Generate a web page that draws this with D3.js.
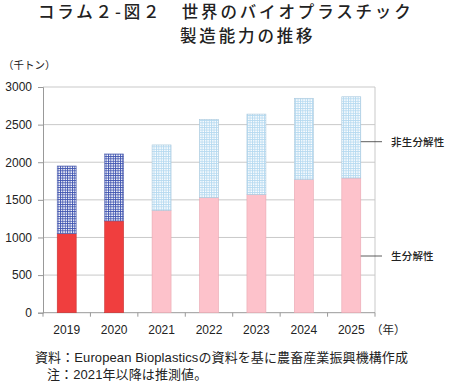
<!DOCTYPE html>
<html><head><meta charset="utf-8">
<script src="https://cdn.jsdelivr.net/npm/d3@7"></script>
<style>body{margin:0;background:#fff}svg{display:block}</style>
</head><body>
<script>
const years = ["2019","2020","2021","2022","2023","2024","2025"];
const biodegradable = [1050, 1220, 1360, 1530, 1570, 1770, 1790];
const nonBiodegradable = [900, 890, 870, 1040, 1070, 1080, 1080];
const isEstimate = [false, false, true, true, true, true, true];
const yTicks = [0, 500, 1000, 1500, 2000, 2500, 3000];
const seriesLabels = ["生分解性", "非生分解性"];

(function () {
const W = 450, H = 381;
const svg = d3.select("body").append("svg").attr("width", W).attr("height", H);
const defs = svg.append("defs");
function grid(id, color, bg) {
  const s = 2.4;
  const p = defs.append("pattern").attr("id", id).attr("patternUnits","userSpaceOnUse")
    .attr("width", s).attr("height", s);
  p.append("rect").attr("width", s).attr("height", s).attr("fill", bg);
  p.append("rect").attr("width", s).attr("height", 0.9).attr("fill", color);
  p.append("rect").attr("width", 0.9).attr("height", s).attr("fill", color);
}
grid("dark", "#3f54b0", "#ffffff");
grid("light", "#b5d9f0", "#ffffff");

const pLeft = 43, pRight = 375, pTop = 87, pBottom = 312.7;
const x = d3.scaleBand().domain(years).range([pLeft, pRight]).paddingInner(0.6).paddingOuter(0.3);
const y = d3.scaleLinear().domain([0, 3000]).range([pBottom, pTop]);
const font = "'Liberation Sans', Arial, sans-serif";
const jp = "'Noto Sans CJK JP', sans-serif";
const mixed = "'Liberation Sans', 'Noto Sans CJK JP', sans-serif";

// title
svg.append("text").attr("x", 38).attr("y", 18).attr("font-family", jp).attr("font-size", 16.5)
  .attr("font-weight", 500).attr("letter-spacing", 2.85).attr("fill", "#222")
  .text("コラム２-図２　世界のバイオプラスチック");
svg.append("text").attr("x", 180).attr("y", 41.5).attr("font-family", jp).attr("font-size", 16.5)
  .attr("font-weight", 500).attr("letter-spacing", 2.85).attr("fill", "#222")
  .text("製造能力の推移");

// unit
svg.append("text").attr("x", 3).attr("y", 69).attr("font-family", jp).attr("font-size", 10.5)
  .attr("fill", "#222").text("（千トン）");

// gridlines
svg.append("g").selectAll("line").data(yTicks.filter(d => d > 0)).join("line")
  .attr("x1", pLeft).attr("x2", pRight).attr("y1", d => y(d)).attr("y2", d => y(d))
  .attr("stroke", "#c9c9c9").attr("stroke-width", 1);
svg.append("line").attr("x1", pRight).attr("x2", pRight).attr("y1", pTop).attr("y2", pBottom)
  .attr("stroke", "#c9c9c9");

// y axis
const ya = svg.append("g").attr("transform", `translate(${pLeft},0)`)
  .call(d3.axisLeft(y).tickValues(yTicks).tickSize(5).tickPadding(6).tickFormat(d3.format("d")));
ya.select(".domain").attr("stroke", "#999");
ya.selectAll(".tick line").attr("stroke", "#999");
ya.selectAll("text").attr("font-family", font).attr("font-size", 12).attr("fill", "#222");

// x axis
const step = (pRight - pLeft) / years.length;
const boundaries = d3.range(years.length + 1).map(i => pLeft + i * step);
svg.append("line").attr("x1", pLeft).attr("x2", pRight).attr("y1", pBottom).attr("y2", pBottom).attr("stroke", "#999");
svg.append("g").selectAll("line").data(boundaries).join("line")
  .attr("x1", d => d).attr("x2", d => d).attr("y1", pBottom).attr("y2", pBottom + 4).attr("stroke", "#999");
svg.append("g").selectAll("text").data(years).join("text")
  .attr("x", d => x(d) + x.bandwidth() / 2).attr("y", 334).attr("text-anchor", "middle")
  .attr("font-family", font).attr("font-size", 12).attr("fill", "#222").text(d => d);
svg.append("text").attr("x", 371).attr("y", 334).attr("font-family", jp).attr("font-size", 11.5)
  .attr("fill", "#222").text("（年）");

// bars
const bars = svg.append("g");
years.forEach((yr, i) => {
  const b = biodegradable[i], n = nonBiodegradable[i];
  bars.append("rect").attr("x", x(yr)).attr("width", x.bandwidth())
    .attr("y", y(b)).attr("height", y(0) - y(b))
    .attr("fill", isEstimate[i] ? "#fdc2cb" : "#f03e3e")
    .attr("stroke", isEstimate[i] ? "#e8a7b1" : "#c93434").attr("stroke-width", 0.6);
  bars.append("rect").attr("x", x(yr)).attr("width", x.bandwidth())
    .attr("y", y(b + n)).attr("height", y(b) - y(b + n))
    .attr("fill", isEstimate[i] ? "url(#light)" : "url(#dark)")
    .attr("stroke", isEstimate[i] ? "#a9c8dd" : "#5565b0").attr("stroke-width", 0.6);
});

// series labels
const last = years.length - 1;
const lx = x(years[last]) + x.bandwidth();
[ [seriesLabels[0], 256], [seriesLabels[1], 141.7] ].forEach(([t, yy]) => {
  svg.append("line").attr("x1", lx).attr("x2", 382).attr("y1", yy).attr("y2", yy).attr("stroke", "#333").attr("stroke-width", 0.8);
  svg.append("text").attr("x", 391).attr("y", yy + 4).attr("font-family", jp).attr("font-size", 10.5)
    .attr("font-weight", 500).attr("letter-spacing", 0.2).attr("fill", "#222").text(t);
});

// source
svg.append("text").attr("x", 35).attr("y", 362).attr("font-family", mixed).attr("font-size", 13)
  .attr("letter-spacing", 0.1).attr("fill", "#222").text("資料：European Bioplasticsの資料を基に農畜産業振興機構作成");
svg.append("text").attr("x", 47).attr("y", 378.5).attr("font-family", mixed).attr("font-size", 13)
  .attr("letter-spacing", 0.1).attr("fill", "#222").text("注：2021年以降は推測値。");
})();
</script>
</body></html>
